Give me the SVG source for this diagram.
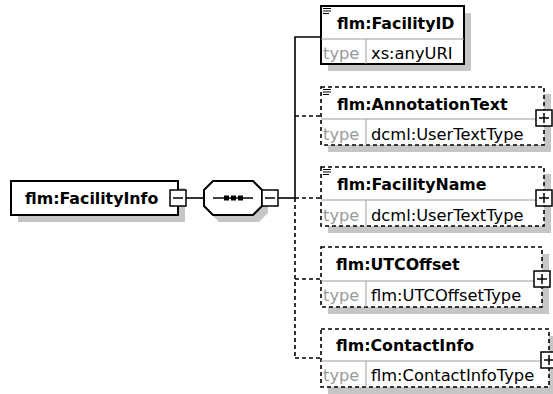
<svg xmlns="http://www.w3.org/2000/svg" xmlns:xlink="http://www.w3.org/1999/xlink" width="553" height="394" viewBox="0 0 553 394">
<style>
.bg{fill:#fff}
.shadow{fill:#c6c6c6}
.box{fill:#fff;stroke:#000;stroke-width:2}
.dbox{fill:#fff;stroke:#000;stroke-width:1.6;stroke-dasharray:4 3}
.div{stroke:#9c9c9c;stroke-width:1;fill:none}
.name{font-family:"DejaVu Sans","Liberation Sans",sans-serif;font-weight:bold;font-size:15.8px;fill:#000}
.tlabel{font-family:"DejaVu Sans","Liberation Sans",sans-serif;font-size:16.3px;fill:#9a9a9a}
.tval{font-family:"DejaVu Sans","Liberation Sans",sans-serif;font-size:16.3px;fill:#000}
.conn{stroke:#000;stroke-width:1.6;fill:none}
.dconn{stroke:#000;stroke-width:1.6;fill:none;stroke-dasharray:4 3}
.btn{fill:#fff;stroke:#000;stroke-width:1.5}
.sym{stroke:#000;stroke-width:1.5;fill:none}
.icon{stroke:#000;stroke-width:1;fill:none}
</style>
<defs>
<g id="doc">
<line class="icon" x1="0" y1="0.5" x2="8" y2="0.5"/>
<line class="icon" x1="0" y1="3" x2="8" y2="3"/>
<line class="icon" x1="0" y1="5.5" x2="6" y2="5.5"/>
</g>
<g id="plus">
<rect class="btn" x="-8" y="-8" width="16" height="16"/>
<line class="sym" x1="-5" y1="0" x2="5" y2="0"/>
<line class="sym" x1="0" y1="-5" x2="0" y2="5"/>
</g>
<g id="minus">
<rect class="btn" x="-8" y="-8" width="16" height="16"/>
<line class="sym" x1="-5" y1="0" x2="5" y2="0"/>
</g>
</defs>
<rect class="bg" x="0" y="0" width="553" height="394"/>

<g id="connectors">
<line class="conn" x1="186" y1="198" x2="204" y2="198"/>
<line class="conn" x1="278" y1="198" x2="295" y2="198"/>
<polyline class="conn" points="321,37 295,37 295,198"/>
<line class="dconn" x1="295" y1="116" x2="321" y2="116"/>
<line class="dconn" x1="295" y1="198" x2="321" y2="198"/>
<line class="dconn" x1="295" y1="198" x2="295" y2="358"/>
<line class="dconn" x1="295" y1="279" x2="321" y2="279"/>
<line class="dconn" x1="295" y1="358" x2="321" y2="358"/>
</g>

<g id="FacilityInfo">
<rect class="shadow" x="18" y="188" width="167" height="34"/>
<rect class="box" x="11" y="181" width="167" height="34"/>
<text class="name" x="25" y="204">flm:FacilityInfo</text>
<use xlink:href="#minus" x="178" y="198"/>
</g>

<g id="sequence">
<path class="shadow" d="M219,188 L259,188 L268,197 L268,213 L259,222 L219,222 L210,213 L210,197 Z"/>
<path class="box" d="M213,181 L253,181 L262,190 L262,206 L253,215 L213,215 L204,206 L204,190 Z"/>
<line class="conn" x1="213" y1="198" x2="253" y2="198"/>
<rect x="224" y="195.5" width="5" height="5" fill="#000"/>
<rect x="231" y="195.5" width="5" height="5" fill="#000"/>
<rect x="238" y="195.5" width="5" height="5" fill="#000"/>
<use xlink:href="#minus" x="270" y="198"/>
</g>

<g id="FacilityID">
<rect class="shadow" x="328" y="13" width="143" height="58"/>
<rect class="box" x="321" y="6" width="143" height="58"/>
<line class="div" x1="321" y1="39" x2="464" y2="39"/>
<line class="div" x1="366" y1="39" x2="366" y2="64"/>
<use xlink:href="#doc" x="323" y="8"/>
<text class="name" x="337" y="29">flm:FacilityID</text>
<text class="tlabel" x="323" y="59">type</text>
<text class="tval" x="371" y="59">xs:anyURI</text>
</g>

<g id="AnnotationText">
<rect class="shadow" x="328" y="94" width="223" height="58"/>
<rect class="dbox" x="321" y="87" width="223" height="58"/>
<line class="div" x1="321" y1="119" x2="544" y2="119"/>
<line class="div" x1="366" y1="119" x2="366" y2="145"/>
<use xlink:href="#doc" x="323" y="89"/>
<text class="name" x="337" y="110">flm:AnnotationText</text>
<text class="tlabel" x="323" y="140">type</text>
<text class="tval" x="371" y="140">dcml:UserTextType</text>
<use xlink:href="#plus" x="544" y="118"/>
</g>

<g id="FacilityName">
<rect class="shadow" x="328" y="174" width="223" height="59"/>
<rect class="dbox" x="321" y="167" width="223" height="59"/>
<line class="div" x1="321" y1="200" x2="544" y2="200"/>
<line class="div" x1="366" y1="200" x2="366" y2="226"/>
<use xlink:href="#doc" x="323" y="169"/>
<text class="name" x="337" y="190">flm:FacilityName</text>
<text class="tlabel" x="323" y="221">type</text>
<text class="tval" x="371" y="221">dcml:UserTextType</text>
<use xlink:href="#plus" x="544" y="198"/>
</g>

<g id="UTCOffset">
<rect class="shadow" x="328" y="254" width="221" height="60"/>
<rect class="dbox" x="321" y="247" width="221" height="60"/>
<line class="div" x1="321" y1="281" x2="542" y2="281"/>
<line class="div" x1="366" y1="281" x2="366" y2="307"/>
<text class="name" x="336" y="270">flm:UTCOffset</text>
<text class="tlabel" x="323" y="301">type</text>
<text class="tval" x="371" y="301">flm:UTCOffsetType</text>
<use xlink:href="#plus" x="542" y="279"/>
</g>

<g id="ContactInfo">
<rect class="shadow" x="328" y="336" width="228" height="58"/>
<rect class="dbox" x="321" y="329" width="228" height="58"/>
<line class="div" x1="321" y1="361" x2="549" y2="361"/>
<line class="div" x1="366" y1="361" x2="366" y2="387"/>
<text class="name" x="336" y="351">flm:ContactInfo</text>
<text class="tlabel" x="323" y="381">type</text>
<text class="tval" x="371" y="381">flm:ContactInfoType</text>
<use xlink:href="#plus" x="549" y="360"/>
</g>
</svg>
